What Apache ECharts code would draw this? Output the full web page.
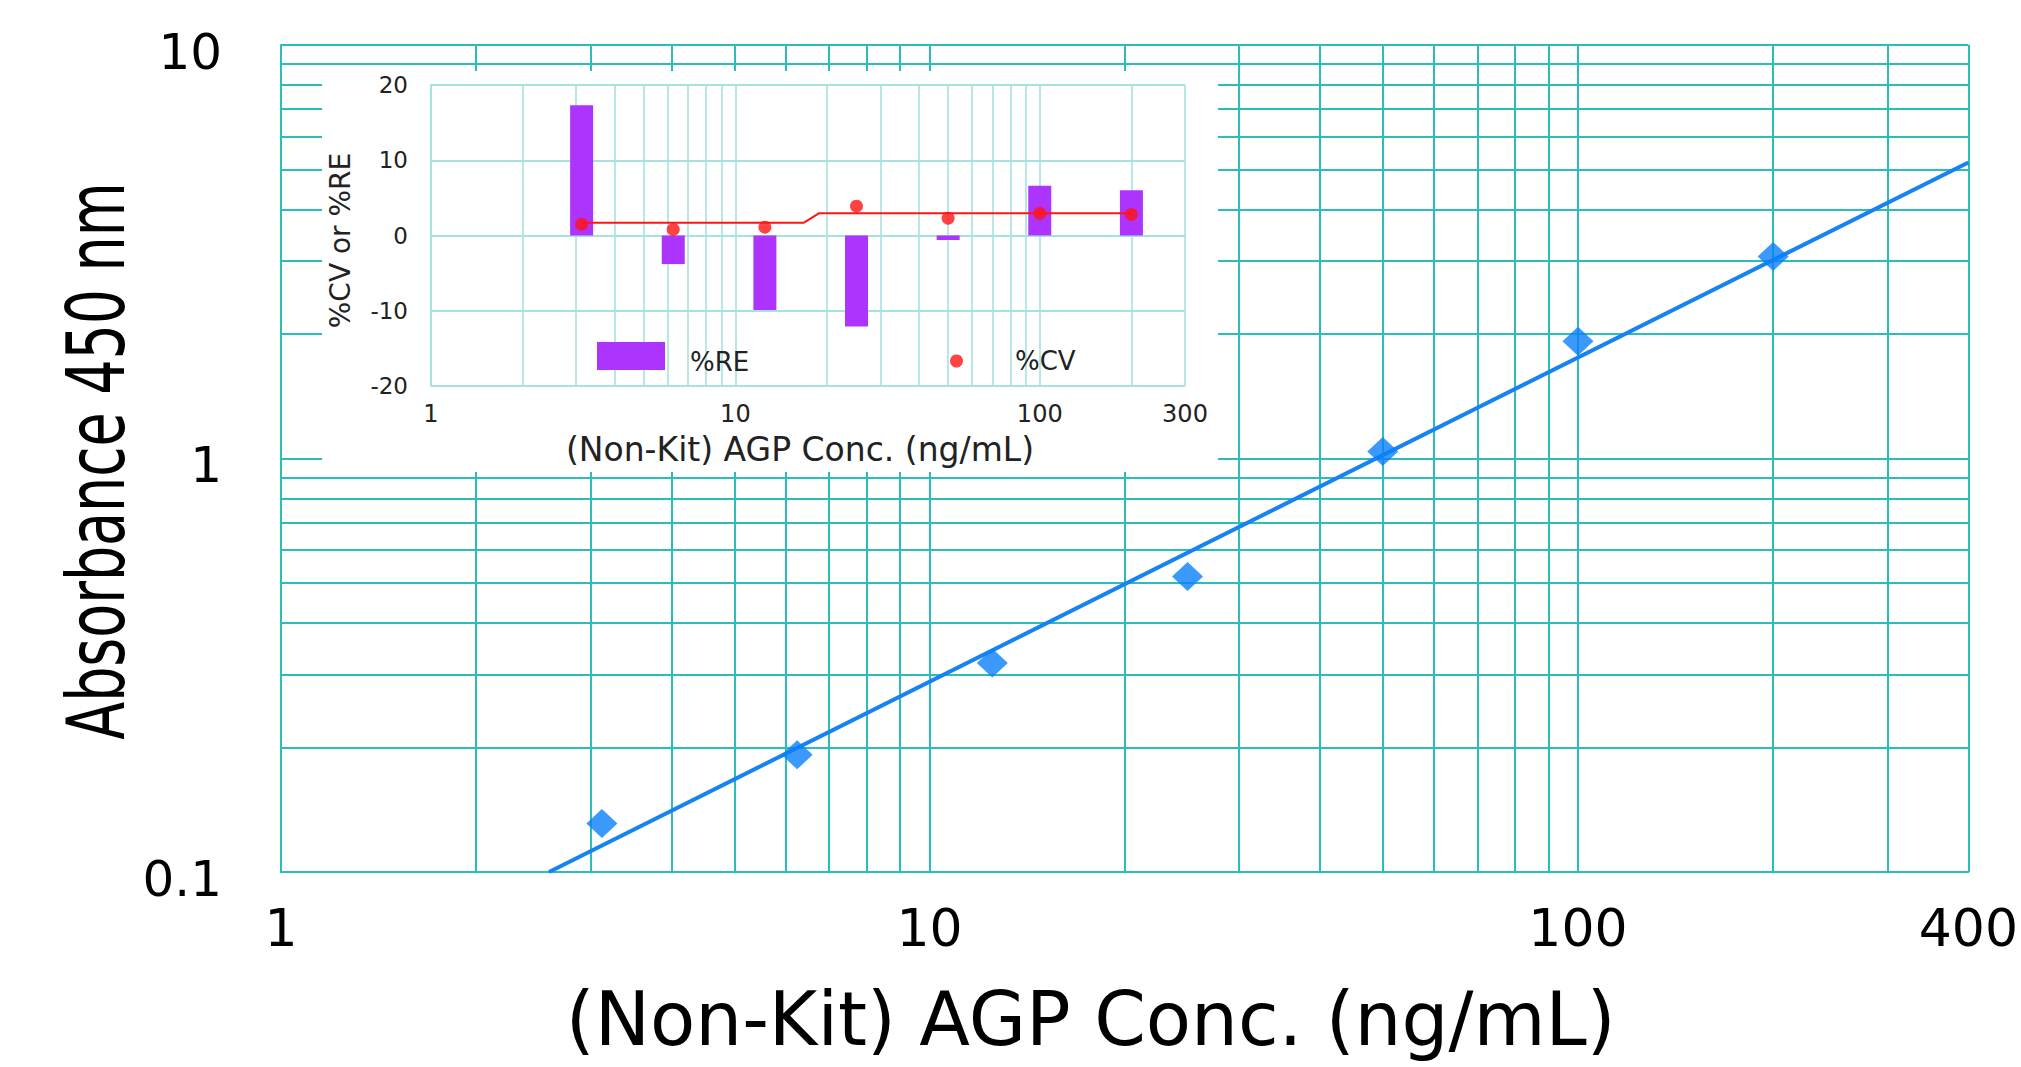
<!DOCTYPE html>
<html>
<head>
<meta charset="utf-8">
<script src="https://cdn.jsdelivr.net/npm/echarts@6/dist/echarts.min.js"></script>
<style>
html,body{margin:0;padding:0;background:#ffffff;}
#chart{width:2021px;height:1067px;}
</style>
</head>
<body>
<div id="chart"></div>
<script>
// ---- Main standard curve (log-log) ----
const conc = [3.125, 6.25, 12.5, 25, 50, 100, 200];
const absorbance = [0.131, 0.192, 0.320, 0.518, 1.04, 1.92, 3.08];
const fitConc = [2.59, 400];
const fitAbs = [0.1, 5.2];

// ---- Inset: %RE bars and %CV points ----
const rePercent = [17.3, -3.8, -9.9, -12.1, -0.6, 6.6, 6.0];
const cvPercent = [1.5, 0.8, 1.1, 3.9, 2.3, 2.95, 2.8];
const cvLineConc = [3.125, 16.8, 18.8, 200];
const cvLineVal = [1.7, 1.7, 2.95, 2.95];

// ---- Minor grid line values ----
const mainXMinor = [2, 3, 4, 5, 6, 7, 8, 9, 20, 30, 40, 50, 60, 70, 80, 90, 200, 300];
const mainYMinor = [0.2, 0.3, 0.4, 0.5, 0.6, 0.7, 0.8, 0.9, 2, 3, 4, 5, 6, 7, 8, 9];
const insetXMinor = [2, 3, 4, 5, 6, 7, 8, 9, 20, 30, 40, 50, 60, 70, 80, 90, 200];

const mainYTitle = 'Absorbance 450 nm';

const TEAL = '#2bbdbb';
const LIGHT = '#a6e2e0';
const BLUE = '#0a7ffa';
const PURPLE = '#ad34fc';
const RED = '#ff1414';
const FONT = 'DejaVu Sans';

const chart = echarts.init(document.getElementById('chart'), null, {renderer: 'svg'});

const option = {
  animation: false,
  backgroundColor: '#ffffff',
  textStyle: {fontFamily: FONT},
  grid: [
    {left: 281, top: 45, right: 52, bottom: 195},
    {left: 431, top: 85, width: 754, height: 301}
  ],
  graphic: [
    {type: 'rect', z: 10, silent: true,
     shape: {x: 322, y: 71, width: 896, height: 401},
     style: {fill: '#ffffff'}},
    {type: 'text', z: 5, silent: true,
     x: 97, y: 461, rotation: Math.PI / 2, scaleX: 0.77, scaleY: 1,
     style: {text: mainYTitle, fontSize: 80, fontFamily: 'DejaVu Sans Condensed',
             fill: '#000', align: 'center', verticalAlign: 'middle'}}
  ],
  legend: [
    {data: ['%RE'], left: 597, top: 342, padding: 0, itemWidth: 68, itemHeight: 28,
     icon: 'rect', selectedMode: false, z: 15,
     formatter: name => '{s| }\n{v|' + name + '}',
     textStyle: {fontSize: 26, color: '#222', fontFamily: FONT, padding: [0, 0, 0, 20],
       rich: {s: {fontSize: 1, lineHeight: 12},
              v: {fontSize: 26, lineHeight: 26, color: '#222', fontFamily: FONT}}}},
    {data: ['%CV'], left: 950, top: 348, padding: 0, itemWidth: 13, itemHeight: 13,
     icon: 'circle', selectedMode: false, z: 15,
     textStyle: {fontSize: 26, color: '#222', fontFamily: FONT, padding: [0, 0, 0, 47]}}
  ],
  xAxis: [
    {
      type: 'log', logBase: 10, gridIndex: 0, min: 1, max: 400, z: 0,
      axisLine: {show: true, lineStyle: {color: TEAL, width: 2}},
      axisTick: {show: false},
      axisLabel: {fontSize: 52, color: '#000', margin: 30, fontFamily: FONT},
      splitLine: {show: true, lineStyle: {color: TEAL, width: 2}},
      name: '(Non-Kit) AGP Conc. (ng/mL)', nameLocation: 'middle', nameGap: 110,
      nameTextStyle: {fontSize: 74, color: '#000', fontFamily: FONT, padding: [0, 68, 0, 0]}
    },
    {
      type: 'log', logBase: 10, gridIndex: 1, min: 1, max: 300, z: 11,
      axisLine: {show: true, lineStyle: {color: LIGHT, width: 2}},
      axisTick: {show: false},
      axisLabel: {fontSize: 24, color: '#222', margin: 16, fontFamily: FONT},
      splitLine: {show: true, lineStyle: {color: LIGHT, width: 1.6}},
      name: '(Non-Kit) AGP Conc. (ng/mL)', nameLocation: 'middle', nameGap: 47,
      nameTextStyle: {fontSize: 33, color: '#222', fontFamily: FONT, padding: [0, 16, 0, 0]}
    }
  ],
  yAxis: [
    {
      type: 'log', logBase: 10, gridIndex: 0, min: 0.1, max: 10, z: 0,
      axisLine: {show: true, lineStyle: {color: TEAL, width: 2}},
      axisTick: {show: false},
      axisLabel: {margin: 59, color: '#000',
        formatter: v => '{s| }\n{v|' + v + '}',
        rich: {s: {fontSize: 1, lineHeight: 13},
               v: {fontSize: 50, lineHeight: 50, color: '#000', fontFamily: FONT}}},
      splitLine: {show: true, lineStyle: {color: TEAL, width: 2}}
    },
    {
      type: 'value', gridIndex: 1, min: -20, max: 20, interval: 10, z: 11,
      axisLine: {show: true, lineStyle: {color: LIGHT, width: 2}},
      axisTick: {show: false},
      axisLabel: {fontSize: 23, color: '#222', margin: 23, fontFamily: FONT},
      splitLine: {show: true, lineStyle: {color: LIGHT, width: 2}},
      name: '%CV or %RE', nameLocation: 'middle', nameGap: 77,
      nameTextStyle: {fontSize: 28, color: '#222', fontFamily: FONT, padding: [0, 10, 0, 0]}
    }
  ],
  series: [
    {
      name: 'fit', type: 'line', xAxisIndex: 0, yAxisIndex: 0, z: 3,
      data: fitConc.map((c, i) => [c, fitAbs[i]]),
      symbol: 'none', silent: true,
      lineStyle: {color: '#1883f0', width: 4},
      markLine: {
        z: 1, silent: true, symbol: ['none', 'none'], label: {show: false},
        lineStyle: {color: TEAL, width: 2, type: 'solid'},
        emphasis: {disabled: true},
        data: mainXMinor.map(v => ({xAxis: v})).concat(mainYMinor.map(v => ({yAxis: v})))
      }
    },
    {
      name: 'Absorbance', type: 'scatter', xAxisIndex: 0, yAxisIndex: 0, z: 4,
      data: conc.map((c, i) => [c, absorbance[i]]),
      symbol: 'diamond', symbolSize: [31, 29],
      itemStyle: {color: BLUE}
    },
    {
      name: '%RE', type: 'bar', xAxisIndex: 1, yAxisIndex: 1, z: 12,
      data: conc.map((c, i) => [c, rePercent[i]]),
      barWidth: 23,
      itemStyle: {color: PURPLE}
    },
    {
      name: 'cvfit', type: 'line', xAxisIndex: 1, yAxisIndex: 1, z: 13,
      data: cvLineConc.map((c, i) => [c, cvLineVal[i]]),
      symbol: 'none', silent: true,
      lineStyle: {color: RED, width: 2},
      markLine: {
        z: 11, silent: true, symbol: ['none', 'none'], label: {show: false},
        lineStyle: {color: LIGHT, width: 1.6, type: 'solid'},
        emphasis: {disabled: true},
        data: insetXMinor.map(v => ({xAxis: v}))
      }
    },
    {
      name: '%CV', type: 'scatter', xAxisIndex: 1, yAxisIndex: 1, z: 14,
      data: conc.map((c, i) => [c, cvPercent[i]]),
      symbol: 'circle', symbolSize: 13,
      itemStyle: {color: RED}
    }
  ]
};
chart.setOption(option);
</script>
</body>
</html>
